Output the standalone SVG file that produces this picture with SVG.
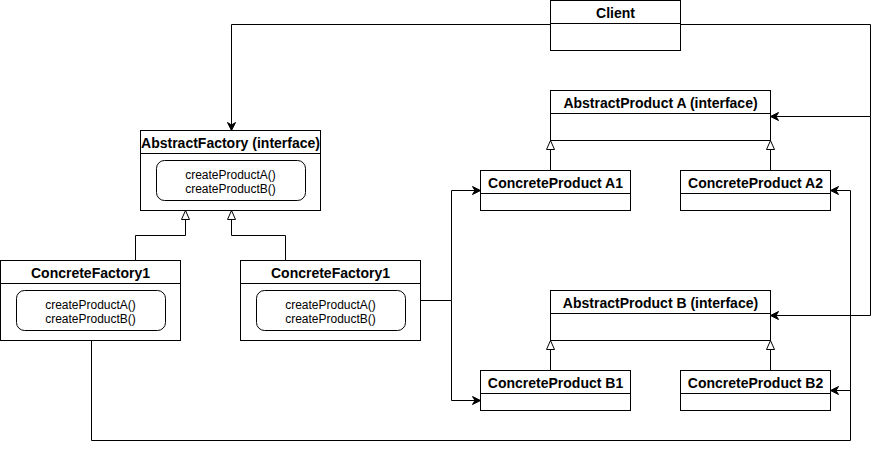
<svg xmlns="http://www.w3.org/2000/svg" width="879" height="449" viewBox="0 0 879 449">
<style>
.box{fill:#fff;stroke:#000;stroke-width:1}
.inner{fill:#fff;stroke:#000;stroke-width:1}
.sep{stroke:#000;stroke-width:1}
.title{font-family:"Liberation Sans",Arial,sans-serif;font-size:14px;font-weight:bold;text-anchor:middle;fill:#000}
.m{font-family:"Liberation Sans",Arial,sans-serif;font-size:12px;text-anchor:middle;fill:#000}
.c{fill:none;stroke:#000;stroke-width:1}
.a{marker-end:url(#arr)}
.t{marker-end:url(#tri)}
</style>
<defs>
<marker id="arr" markerUnits="userSpaceOnUse" markerWidth="10" markerHeight="10" refX="8" refY="4" orient="auto" overflow="visible">
<path d="M0,0 L8,4 L0,8 L2.5,4 Z" fill="#000" stroke="#000" stroke-width="1"/>
</marker>
<marker id="tri" markerUnits="userSpaceOnUse" markerWidth="12" markerHeight="12" refX="9" refY="4" orient="auto" overflow="visible">
<path d="M0,0 L9,4 L0,8 Z" fill="#fff" stroke="#000" stroke-width="1"/>
</marker>
</defs>
<rect width="879" height="449" fill="#fff"/>
<g transform="translate(0.5,0.5)">
<g id="connectors">
<path class="c a" d="M550,24 H231 V130"/>
<path class="c a" d="M680,24 H870 V116 H770"/>
<path class="c a" d="M870,116 V315 H770"/>
<path class="c a" d="M420,300 H451 V190 H480"/>
<path class="c a" d="M451,300 V400 H480"/>
<path class="c a" d="M91,340 V440 H850 V190 H830"/>
<path class="c a" d="M850,390 H830"/>
<path class="c t" d="M135,260 V235 H185 V210"/>
<path class="c t" d="M285,260 V235 H231 V210"/>
<path class="c t" d="M550,170 V140"/>
<path class="c t" d="M770,170 V140"/>
<path class="c t" d="M550,370 V340"/>
<path class="c t" d="M770,370 V340"/>
</g>
<g id="client">
<rect class="box" x="550" y="0" width="130" height="50"/>
<line class="sep" x1="550" y1="23" x2="680" y2="23"/>
<text class="title" x="615" y="17">Client</text>
</g>
<g id="abstractProductA">
<rect class="box" x="550" y="90" width="220" height="50"/>
<line class="sep" x1="550" y1="113" x2="770" y2="113"/>
<text class="title" x="660" y="107">AbstractProduct A (interface)</text>
</g>
<g id="concreteProductA1">
<rect class="box" x="480" y="170" width="150" height="40"/>
<line class="sep" x1="480" y1="193" x2="630" y2="193"/>
<text class="title" x="555" y="187">ConcreteProduct A1</text>
</g>
<g id="concreteProductA2">
<rect class="box" x="680" y="170" width="150" height="40"/>
<line class="sep" x1="680" y1="193" x2="830" y2="193"/>
<text class="title" x="755" y="187">ConcreteProduct A2</text>
</g>
<g id="abstractProductB">
<rect class="box" x="550" y="290" width="220" height="50"/>
<line class="sep" x1="550" y1="313" x2="770" y2="313"/>
<text class="title" x="660" y="307">AbstractProduct B (interface)</text>
</g>
<g id="concreteProductB1">
<rect class="box" x="480" y="370" width="150" height="40"/>
<line class="sep" x1="480" y1="393" x2="630" y2="393"/>
<text class="title" x="555" y="387">ConcreteProduct B1</text>
</g>
<g id="concreteProductB2">
<rect class="box" x="680" y="370" width="150" height="40"/>
<line class="sep" x1="680" y1="393" x2="830" y2="393"/>
<text class="title" x="755" y="387">ConcreteProduct B2</text>
</g>
<g id="abstractFactory">
<rect class="box" x="140" y="130" width="180" height="80"/>
<line class="sep" x1="140" y1="153" x2="320" y2="153"/>
<text class="title" x="230" y="147">AbstractFactory (interface)</text>
<rect class="inner" x="156" y="160" width="149" height="40" rx="8"/>
<text class="m" x="230" y="178">createProductA()</text>
<text class="m" x="230" y="192">createProductB()</text>
</g>
<g id="concreteFactory1Left">
<rect class="box" x="0" y="260" width="180" height="80"/>
<line class="sep" x1="0" y1="283" x2="180" y2="283"/>
<text class="title" x="90" y="277">ConcreteFactory1</text>
<rect class="inner" x="16" y="290" width="149" height="40" rx="8"/>
<text class="m" x="90" y="308">createProductA()</text>
<text class="m" x="90" y="322">createProductB()</text>
</g>
<g id="concreteFactory1Right">
<rect class="box" x="240" y="260" width="180" height="80"/>
<line class="sep" x1="240" y1="283" x2="420" y2="283"/>
<text class="title" x="330" y="277">ConcreteFactory1</text>
<rect class="inner" x="256" y="290" width="149" height="40" rx="8"/>
<text class="m" x="330" y="308">createProductA()</text>
<text class="m" x="330" y="322">createProductB()</text>
</g>
</g>
</svg>
